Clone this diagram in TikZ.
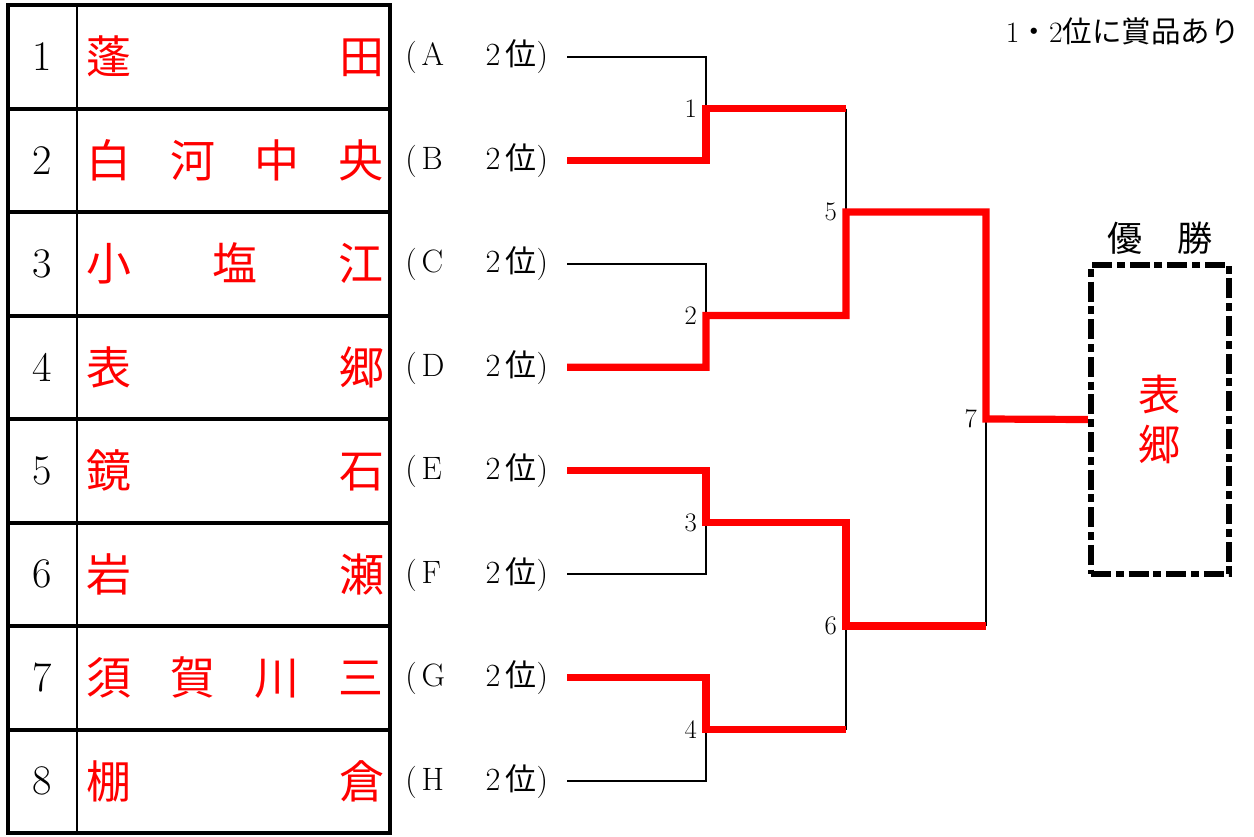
\documentclass[tikz,border=0pt]{standalone}
\usepackage{fontspec}
\usepackage{xcolor}
\usetikzlibrary{positioning}
\newfontfamily\cjk{Noto Sans CJK JP}
\definecolor{winred}{HTML}{FF0000}

\begin{document}
\begin{tikzpicture}[x=0.25mm, y=-0.25mm,
  frameL/.style={line width=1mm, line cap=rect},
  divL/.style={line width=0.6mm},
  loseL/.style={line width=0.5mm, black},
  winL/.style={line width=1.8mm, winred},
  seedNum/.style={font=\fontsize{30}{32}\selectfont, inner sep=0pt},
  teamName/.style={font=\cjk\fontsize{32}{34}\selectfont, text=winred, inner sep=0pt},
  teamTag/.style={font=\fontsize{23}{25}\selectfont, inner sep=0pt, anchor=west},
  matchNum/.style={font=\fontsize{19}{21}\selectfont, inner sep=0pt},
  champBox/.style={draw=black, line width=1.6mm, dash pattern=on 5mm off 1.2mm on 2mm off 1.2mm,
    minimum width=34.5mm, minimum height=77.25mm, inner sep=0pt, align=center,
    font=\cjk\fontsize{30}{35}\selectfont, text=winred},
]
\def\rowH{103.5}
\useasboundingbox (0,0) rectangle (1254,836);
\draw[frameL] (8,5) rectangle (390,833);
\foreach \k in {1,...,7} {
  \draw[frameL] (8,5+\k*\rowH) -- (390,5+\k*\rowH);
}
\draw[divL] (77,5) -- (77,833);
\foreach \i/\team/\tag in {%
  1/{蓬\hfill 田}/A,
  2/{白\hfill 河\hfill 中\hfill 央}/B,
  3/{小\hfill 塩\hfill 江}/C,
  4/{表\hfill 郷}/D,
  5/{鏡\hfill 石}/E,
  6/{岩\hfill 瀬}/F,
  7/{須\hfill 賀\hfill 川\hfill 三}/G,
  8/{棚\hfill 倉}/H%
} {
  \pgfmathsetmacro{\yy}{5+(\i-0.5)*\rowH}
  \node[seedNum] (n\i) at (42.5,\yy) {\i};
  \node[teamName] (t\i) at (235.5,\yy) {\makebox[74.25mm]{\team}};
  \node[teamTag] (l\tag) at (405,\yy)
    {(\hspace{1.2mm}\makebox[16mm][l]{\tag}2\hspace{1.3mm}{\cjk\fontsize{22}{24}\selectfont 位})};
  \coordinate (s\tag) at (567,\yy);
}
\coordinate (m1) at (706,108.5);
\coordinate (m2) at (706,315.5);
\coordinate (m3) at (706,522.5);
\coordinate (m4) at (706,729.5);
\coordinate (m5) at (846,212);
\coordinate (m6) at (846,626);
\coordinate (m7) at (986,419);
\node[champBox] (champ) at (1160,419.5) {表\\郷};
\node[font=\cjk\fontsize{25}{27}\selectfont, inner sep=0pt] (champT) at (1160,238) {優　勝};
\node[font=\cjk\fontsize{21}{23}\selectfont, inner sep=0pt, anchor=east] (prize) at (1240,31)
  {{\normalfont 1}・{\normalfont 2}位に賞品あり};
\draw[loseL] (sA) -| (m1);
\draw[loseL] (sC) -| (m2);
\draw[loseL] (sF) -| (m3);
\draw[loseL] (sH) -| (m4);
\draw[loseL] (m1 -| m5) -- (m5);
\draw[loseL] (m4 -| m6) -- (m6);
\draw[loseL] (m6 -| m7) -- (m7);
\draw[winL] (sB) -| (m1) -- (m1 -| m5);
\draw[winL] (sD) -| (m2) -- (m2 -| m5) -- (m5) -- (m5 -| m7) -- (m7) -- (champ.west);
\draw[winL] (sE) -| (m3) -- (m3 -| m6) -- (m6) -- (m6 -| m7);
\draw[winL] (sG) -| (m4) -- (m4 -| m6);
\foreach \m in {1,...,7} {
  \node[matchNum, left=2.2mm of m\m] (k\m) {\m};
}
\end{tikzpicture}
\end{document}
